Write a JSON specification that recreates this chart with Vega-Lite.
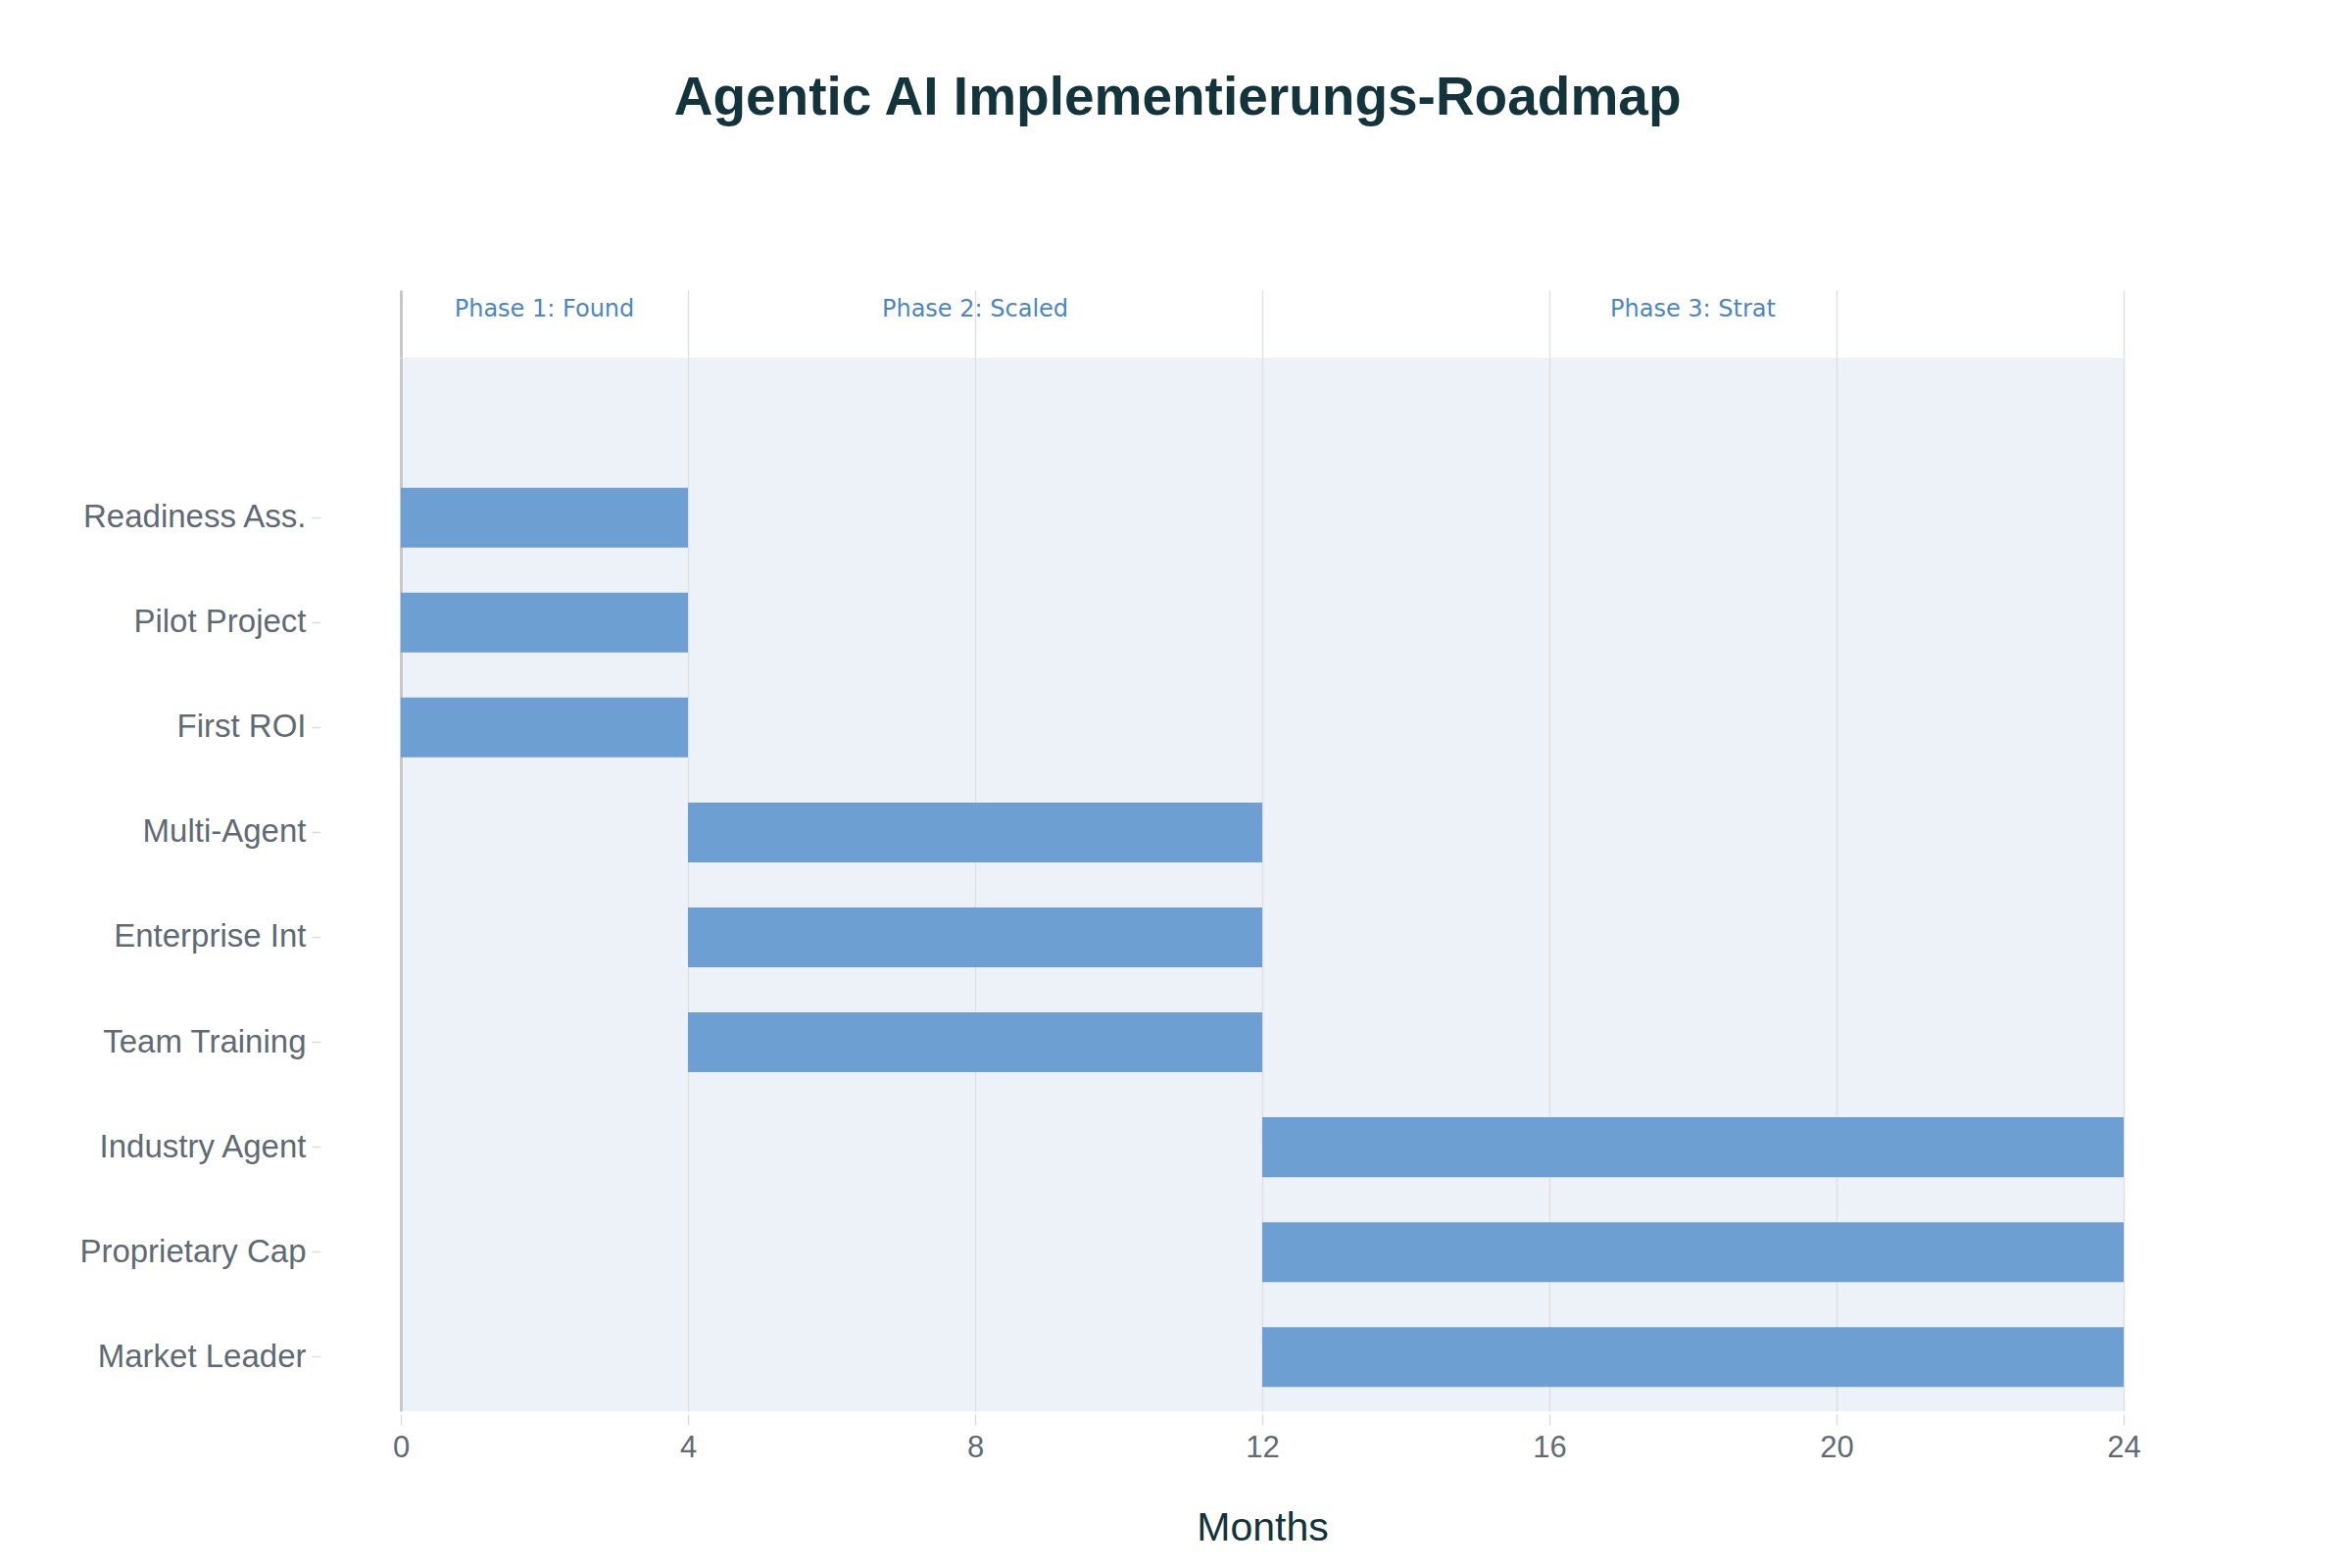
{
  "$schema": "https://vega.github.io/schema/vega-lite/v6.json",
  "padding": {"left": 80, "top": 73, "right": 5, "bottom": 5},
  "background": "white",
  "title": {
    "text": "Agentic AI Implementierungs-Roadmap",
    "font": "Liberation Sans",
    "fontSize": 55,
    "fontWeight": "bold",
    "color": "#13343B",
    "anchor": "middle",
    "offset": 167,
    "dx": 69
  },
  "datasets": {
    "phases": [
      {"phase": "Phase 1: Found", "mid": 2},
      {"phase": "Phase 2: Scaled", "mid": 8},
      {"phase": "Phase 3: Strat", "mid": 18}
    ],
    "tasks": [
      {"task": "Readiness Ass.", "start": 0, "end": 4},
      {"task": "Pilot Project", "start": 0, "end": 4},
      {"task": "First ROI", "start": 0, "end": 4},
      {"task": "Multi-Agent", "start": 4, "end": 12},
      {"task": "Enterprise Int", "start": 4, "end": 12},
      {"task": "Team Training", "start": 4, "end": 12},
      {"task": "Industry Agent", "start": 12, "end": 24},
      {"task": "Proprietary Cap", "start": 12, "end": 24},
      {"task": "Market Leader", "start": 12, "end": 24}
    ]
  },
  "spacing": 0,
  "bounds": "flush",
  "vconcat": [
    {
      "width": 1758,
      "height": 69,
      "data": {"name": "phases"},
      "mark": {"type": "text", "font": "DejaVu Sans", "fontSize": 24, "color": "#4A86C8", "baseline": "middle", "dy": -15},
      "encoding": {
        "x": {
          "field": "mid",
          "type": "quantitative",
          "scale": {"domain": [0, 24], "nice": false},
          "axis": {
            "values": [0, 4, 8, 12, 16, 20, 24],
            "labels": false,
            "ticks": false,
            "domain": false,
            "title": null,
            "grid": true,
            "gridColor": {"condition": {"test": "datum.value === 0", "value": "#C8C8C8"}, "value": "#E1E1E1"},
            "gridWidth": {"condition": {"test": "datum.value === 0", "value": 3}, "value": 1.5}
          }
        },
        "text": {"field": "phase", "type": "nominal"}
      }
    },
    {
      "width": 1758,
      "height": 1075,
      "view": {"fill": "#EDF1F8", "stroke": null},
      "data": {"name": "tasks"},
      "mark": {"type": "bar", "color": "#6E9FD2"},
      "encoding": {
        "y": {
          "field": "task",
          "type": "nominal",
          "sort": null,
          "scale": {"paddingInner": 0.43, "paddingOuter": 0.735, "align": 0.843},
          "axis": {
            "title": null,
            "domain": false,
            "grid": false,
            "ticks": true,
            "tickSize": 9,
            "tickColor": "#DCDCDC",
            "tickWidth": 1.5,
            "offset": 82,
            "labelFont": "Liberation Sans",
            "labelFontSize": 33,
            "labelLimit": 0,
            "labelColor": "#5F6B73",
            "labelPadding": 6
          }
        },
        "x": {
          "field": "start",
          "type": "quantitative",
          "scale": {"domain": [0, 24], "nice": false},
          "axis": {
            "values": [0, 4, 8, 12, 16, 20, 24],
            "title": "Months",
            "titleFont": "Liberation Sans",
            "titleFontSize": 41,
            "titleFontWeight": "normal",
            "titleColor": "#13343B",
            "titlePadding": 47,
            "labelFont": "Liberation Sans",
            "labelFontSize": 31,
            "labelFlush": false,
            "labelColor": "#5F6B73",
            "labelPadding": 8,
            "domain": false,
            "tickColor": "#DCDCDC",
            "tickWidth": 1.5,
            "tickSize": 11,
            "offset": 3,
            "grid": true,
            "gridColor": {"condition": {"test": "datum.value === 0", "value": "#C8C8C8"}, "value": "#E1E1E1"},
            "gridWidth": {"condition": {"test": "datum.value === 0", "value": 3}, "value": 1.5}
          }
        },
        "x2": {"field": "end"}
      }
    }
  ],
  "config": {"view": {"stroke": null}}
}
